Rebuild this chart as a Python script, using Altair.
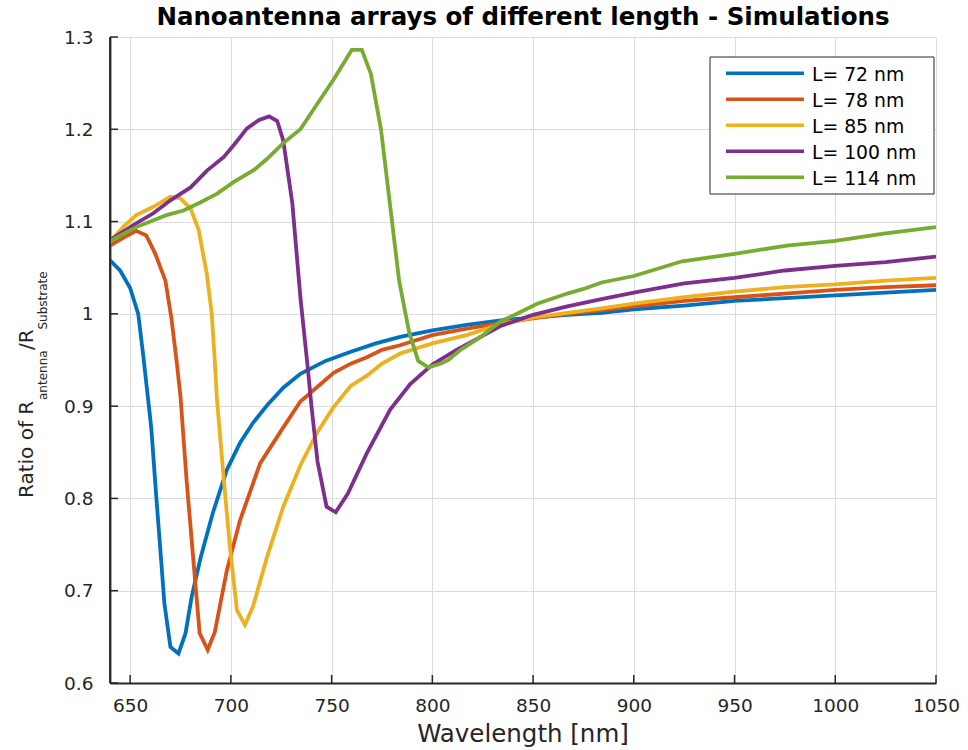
import altair as alt
import pandas as pd

# ---- simulated reflectance ratio for each antenna length ----
labels = ["L= 72 nm", "L= 78 nm", "L= 85 nm", "L= 100 nm", "L= 114 nm"]
colors = ["#0072BD", "#D95319", "#EDB120", "#7E2F8E", "#77AC30"]

wl_72 = [640, 645, 650, 654, 656.5, 660.5, 663, 665.5, 667, 670, 674, 677.5, 680.5, 685, 691,
         698, 704.5, 711, 718, 726, 734.5, 747, 759.5, 772, 784, 800, 817, 834, 850, 867, 884,
         900, 925, 950, 975, 1000, 1025, 1050]
r_72 = [1.058, 1.047, 1.028, 1.000, 0.955, 0.876, 0.801, 0.730, 0.686, 0.639, 0.632, 0.654,
        0.693, 0.736, 0.784, 0.831, 0.860, 0.882, 0.901, 0.920, 0.935, 0.949, 0.959, 0.968,
        0.975, 0.982, 0.988, 0.993, 0.996, 0.999, 1.001, 1.005, 1.009, 1.014, 1.017, 1.020,
        1.023, 1.026]

wl_78 = [640, 647, 653, 658, 662.5, 667.5, 670.5, 673, 675, 678, 681.5, 684.5, 688.5, 692, 698,
         704.5, 714.5, 726, 734.5, 743, 751, 759.5, 767.5, 775, 784, 800, 817, 834, 850, 867,
         884, 900, 925, 950, 975, 1000, 1025, 1050]
r_78 = [1.074, 1.083, 1.090, 1.085, 1.065, 1.036, 0.995, 0.950, 0.910, 0.820, 0.730, 0.654,
        0.636, 0.655, 0.722, 0.776, 0.838, 0.877, 0.905, 0.921, 0.936, 0.946, 0.953, 0.961,
        0.966, 0.977, 0.984, 0.990, 0.995, 1.000, 1.004, 1.008, 1.014, 1.018, 1.022, 1.026,
        1.029, 1.031]

wl_85 = [640, 646.5, 653, 661.5, 670, 675, 680, 684, 688, 690.5, 692, 693, 696.5, 699.5, 703,
         707, 711, 718, 726, 734.5, 743, 751, 759.5, 767.5, 775, 784, 800, 817, 834, 850, 867,
         884, 900, 925, 950, 975, 1000, 1025, 1050]
r_85 = [1.078, 1.094, 1.107, 1.116, 1.127, 1.125, 1.114, 1.091, 1.044, 1.000, 0.950, 0.910,
        0.820, 0.748, 0.679, 0.663, 0.683, 0.737, 0.791, 0.836, 0.872, 0.899, 0.922, 0.933,
        0.946, 0.957, 0.968, 0.977, 0.989, 0.996, 1.001, 1.006, 1.011, 1.018, 1.024, 1.029,
        1.032, 1.036, 1.039]

wl_100 = [640, 653, 661.5, 670, 680, 688, 696.5, 701.5, 708, 714, 719, 723, 726, 730.5, 734.5,
          738, 740, 743, 747.5, 752, 758, 767.5, 779, 789, 800, 812, 824, 834, 850, 867, 884,
          900, 925, 950, 975, 1000, 1025, 1050]
r_100 = [1.080, 1.098, 1.109, 1.123, 1.137, 1.155, 1.170, 1.183, 1.201, 1.210, 1.214, 1.209,
         1.188, 1.120, 1.018, 0.945, 0.900, 0.840, 0.791, 0.785, 0.805, 0.849, 0.896, 0.924,
         0.945, 0.961, 0.975, 0.987, 0.999, 1.008, 1.016, 1.023, 1.033, 1.039, 1.047, 1.052,
         1.056, 1.062]

wl_114 = [640, 653, 668, 676.5, 685, 693, 701.5, 711.5, 718, 726, 734.5, 743, 751, 760, 765,
          769.5, 774.5, 779.5, 783.5, 788.5, 793, 798, 804, 808, 814, 824, 834, 841, 852, 867,
          875, 884, 900, 924, 950, 976, 1000, 1024, 1050]
r_114 = [1.079, 1.094, 1.107, 1.112, 1.121, 1.130, 1.143, 1.156, 1.168, 1.185, 1.200, 1.228,
         1.254, 1.286, 1.286, 1.260, 1.200, 1.109, 1.036, 0.980, 0.949, 0.942, 0.946, 0.950,
         0.961, 0.975, 0.992, 0.999, 1.011, 1.022, 1.027, 1.034, 1.041, 1.057, 1.065, 1.074,
         1.079, 1.087, 1.094]

x_ticks = [650, 700, 750, 800, 850, 900, 950, 1000, 1050]
y_ticks = [0.6, 0.7, 0.8, 0.9, 1.0, 1.1, 1.2, 1.3]

title_text = "Nanoantenna arrays of different length - Simulations"
x_title = "Wavelength [nm]"

# ---- long-form table for the line layer ----
frames = []
for lab, wl, r in zip(labels, [wl_72, wl_78, wl_85, wl_100, wl_114],
                      [r_72, r_78, r_85, r_100, r_114]):
    frames.append(pd.DataFrame({"wavelength": wl, "ratio": r, "series": lab}))
df = pd.concat(frames, ignore_index=True)

W, H = 826, 646
FONT = "DejaVu Sans"
INK = "#262626"
GRID = "#dcdcdc"
LW = 3.8

x_scale = alt.Scale(domain=[640, 1050], nice=False, zero=False)
y_scale = alt.Scale(domain=[0.6, 1.3], nice=False, zero=False)
color_scale = alt.Scale(domain=labels, range=colors)

x_axis = alt.Axis(values=x_ticks, title=None, grid=True, gridColor=GRID, format="d",
                  ticks=False, tickSize=0, domainColor=INK, domainWidth=1.8,
                  labelFont=FONT, labelFontSize=18.5, labelColor=INK,
                  labelPadding=13, labelFlush=False)
y_axis = alt.Axis(values=y_ticks, title=None, grid=True, gridColor=GRID,
                  ticks=False, tickSize=0, domainColor=INK, domainWidth=1.8,
                  labelFont=FONT, labelFontSize=18.5, labelColor=INK,
                  labelPadding=17, labelFlush=False,
                  labelExpr="format(datum.value, '~g')")

lines = alt.Chart(df).mark_line(strokeWidth=LW, clip=True).encode(
    x=alt.X("wavelength:Q", scale=x_scale, axis=x_axis),
    y=alt.Y("ratio:Q", scale=y_scale, axis=y_axis),
    color=alt.Color("series:N", scale=color_scale, legend=None),
    order=alt.Order("wavelength:Q"),
)

# solid left axis line plus inward tick marks on the left and bottom axes
left_axis = alt.Chart(pd.DataFrame({"k": [0]})).mark_rule(color=INK, strokeWidth=1.8).encode(
    x=alt.value(0), y=alt.value(0), y2=alt.value(H)
)
ytick_df = pd.DataFrame({"v": y_ticks})
xtick_df = pd.DataFrame({"w": x_ticks})
yticks = alt.Chart(ytick_df).mark_rule(color=INK, strokeWidth=1.5).encode(
    y=alt.Y("v:Q", scale=y_scale, axis=None),
    x=alt.value(0), x2=alt.value(8),
)
xticks = alt.Chart(xtick_df).mark_rule(color=INK, strokeWidth=1.5).encode(
    x=alt.X("w:Q", scale=x_scale, axis=x_axis),
    y=alt.value(H), y2=alt.value(H - 8),
)

# legend drawn inside the plot area
leg_df = pd.DataFrame({"series": labels})
leg_box = alt.Chart(pd.DataFrame({"k": [0]})).mark_rect(
    fill="white", stroke=INK, strokeWidth=1
).encode(x=alt.value(600), x2=alt.value(824), y=alt.value(20), y2=alt.value(157))
leg_y = alt.Y("series:N", scale=alt.Scale(type="point", domain=labels,
                                          range=[36.3, 140.3], padding=0), axis=None)
leg_lines = alt.Chart(leg_df).mark_rule(strokeWidth=3.4).encode(
    y=leg_y, x=alt.value(616), x2=alt.value(694),
    color=alt.Color("series:N", scale=color_scale, legend=None),
)
leg_text = alt.Chart(leg_df).mark_text(
    align="left", baseline="middle", dy=2, font=FONT, fontSize=18.8, color="black"
).encode(y=leg_y, x=alt.value(702), text="series:N")


def label(text, x, y, size, bold=False, angle=0, align="left", baseline="alphabetic"):
    return alt.Chart(pd.DataFrame({"t": [text]})).mark_text(
        font=FONT, fontSize=size, fontWeight="bold" if bold else "normal",
        color="black" if bold else INK, angle=angle, align=align, baseline=baseline
    ).encode(x=alt.value(x), y=alt.value(y), text="t:N")


title = label(title_text, W / 2, -12, 24.5, bold=True, align="center")
xlab = label(x_title, W / 2, 705, 24.5, align="center")

# y-axis title with subscripts: Ratio of R_antenna / R_Substrate
ylab = [
    label("Ratio of R", -77, 461, 20, angle=270),
    label("antenna", -63, 363, 12, angle=270),
    label("/R", -77, 313, 20, angle=270),
    label("Substrate", -63, 292.5, 12, angle=270),
]

chart = alt.layer(
    lines, left_axis, yticks, xticks, leg_box, leg_lines, leg_text, title, xlab, *ylab
).resolve_scale(y="independent").properties(
    width=W, height=H,
    autosize=alt.AutoSizeParams(type="none"),
    padding={"left": 110, "top": 37, "right": 32, "bottom": 67},
    background="white",
).configure_view(stroke=None)

chart.save("out.html", embed_options={"renderer": "svg", "actions": False})
